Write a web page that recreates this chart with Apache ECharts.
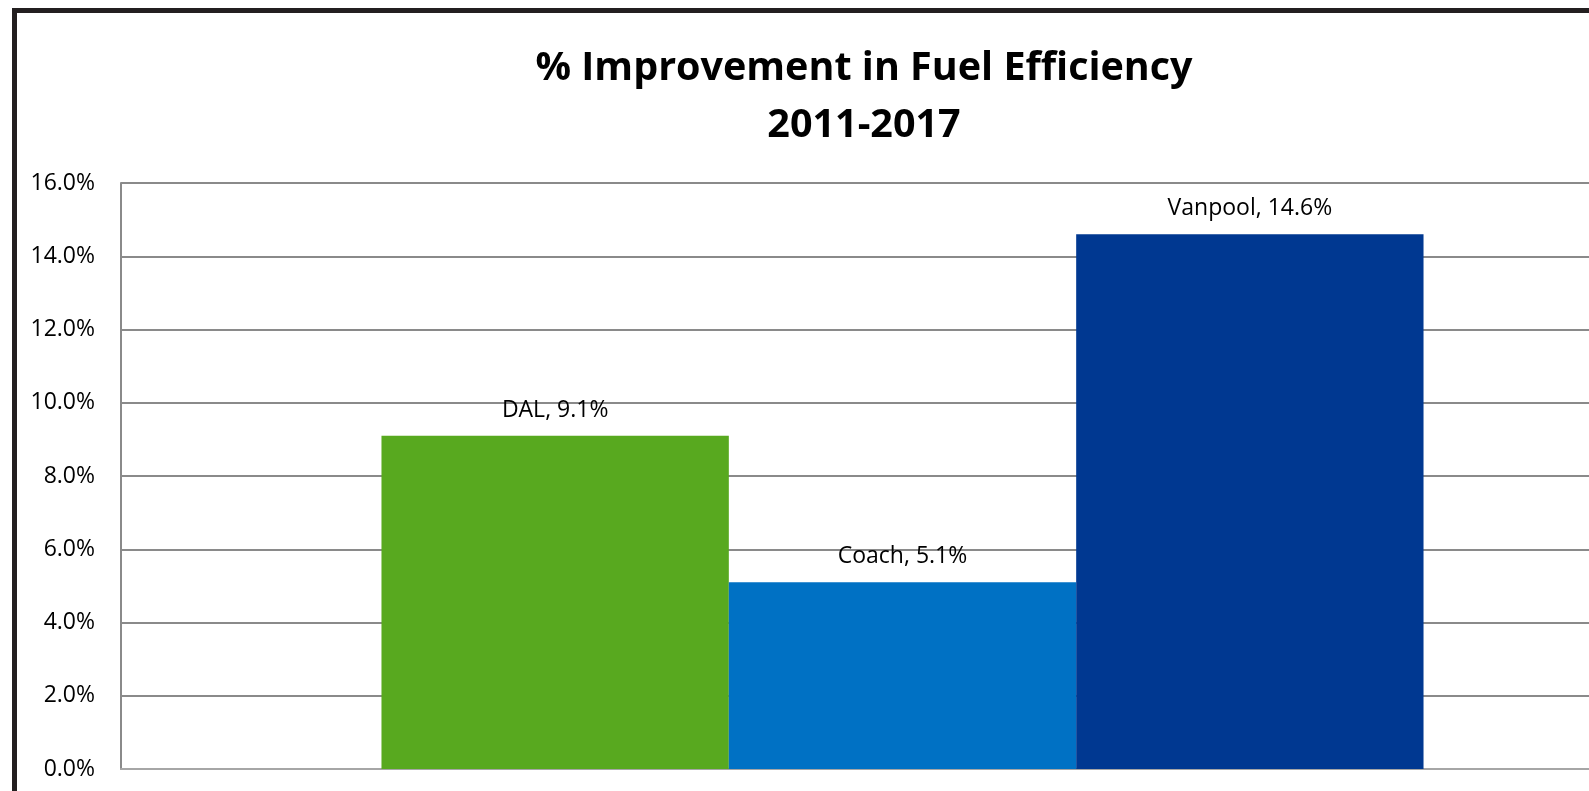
<!DOCTYPE html>
<html>
<head>
<meta charset="utf-8">
<script src="https://cdn.jsdelivr.net/npm/echarts@6/dist/echarts.min.js"></script>
<style>
  html, body { margin: 0; padding: 0; background: #fff; overflow: hidden; width: 1589px; height: 791px; }
  #frame { position: absolute; left: 12px; top: 8px; width: 1694px; height: 790px; border: 5px solid #231f20; background: #fff; }
  #chart { width: 1694px; height: 790px; }
</style>
</head>
<body>
<div id="frame"><div id="chart"></div></div>
<script>
// datos
const titulo = '% Improvement in Fuel Efficiency\n2011-2017';
const categorias = [''];
const series = ['DAL', 'Coach', 'Vanpool'];
const valores = [9.1, 5.1, 14.6];
const colores = ['#58a91f', '#0071c4', '#003891'];
const ticksY = { min: 0, max: 16, interval: 2 };

const fuente = '"Open Sans", "Noto Sans", sans-serif';

const chart = echarts.init(document.getElementById('chart'));

const getOpciones = () => {
  return {
    animation: false,
    title: {
      text: titulo,
      left: 'center',
      top: 22,
      textStyle: {
        fontFamily: fuente,
        fontWeight: 'bold',
        fontSize: 39.5,
        lineHeight: 57,
        color: '#000'
      }
    },
    grid: { left: 104, right: 27, top: 170, bottom: 34 },
    xAxis: {
      type: 'category',
      data: categorias,
      axisLine: { show: true, lineStyle: { color: '#a6a6a6', width: 2 } },
      axisTick: { show: false },
      axisLabel: { show: false }
    },
    yAxis: {
      type: 'value',
      min: ticksY.min,
      max: ticksY.max,
      interval: ticksY.interval,
      axisLine: { show: true, lineStyle: { color: '#8a8a8a', width: 2 } },
      axisTick: { show: false },
      axisLabel: {
        margin: 26,
        fontFamily: fuente,
        fontSize: 23,
        color: '#000',
        formatter: v => v.toFixed(1) + '%'
      },
      splitLine: { lineStyle: { color: '#8a8a8a', width: 2 } }
    },
    series: series.map((nombre, i) => ({
      name: nombre,
      type: 'bar',
      barGap: '0%',
      barCategoryGap: '33.33%',
      data: [valores[i]],
      itemStyle: { color: colores[i] },
      label: {
        show: true,
        position: 'top',
        distance: 14,
        fontFamily: fuente,
        fontSize: 23,
        color: '#000',
        formatter: p => p.seriesName + ', ' + p.value.toFixed(1) + '%'
      }
    }))
  };
};

chart.setOption(getOpciones());
</script>
</body>
</html>
